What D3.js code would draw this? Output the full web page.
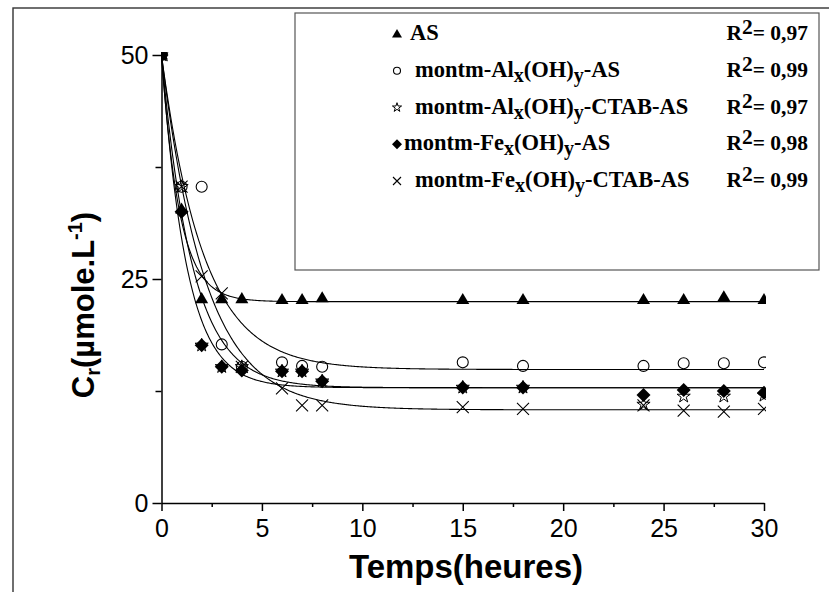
<!DOCTYPE html>
<html>
<head>
<meta charset="utf-8">
<script src="https://cdn.jsdelivr.net/npm/d3@7"></script>
<style>
  html, body { margin: 0; padding: 0; background: #fff; }
  svg { display: block; }
</style>
</head>
<body>
<svg id="chart" width="829" height="592"></svg>
<script>
// Sampling times (hours)
const times = [0, 1, 2, 3, 4, 6, 7, 8, 15, 18, 24, 26, 28, 30];

// Residual concentration C_r (µmole/L) per adsorbent
const crAS         = [50, 32.8, 22.8, 22.8, 22.8, 22.7, 22.7, 22.9, 22.7, 22.7, 22.7, 22.7, 23.0, 22.7];
const crAlAS       = [50, 35.3, 35.3, 17.7, 15.2, 15.7, 15.3, 15.2, 15.7, 15.3, 15.3, 15.6, 15.6, 15.7];
const crAlCTAB     = [50, 35.3, 17.6, 15.2, 15.2, 14.7, 14.7, 13.6, 12.9, 12.9, 11.0, 11.9, 11.9, 12.0];
const crFeAS       = [50, 32.5, 17.6, 15.2, 14.8, 14.7, 14.7, 13.6, 12.9, 12.9, 12.05, 12.6, 12.5, 12.3];
const crFeCTAB     = [50, 35.3, 25.3, 23.4, 15.2, 12.8, 10.9, 10.9, 10.7, 10.5, 10.9, 10.3, 10.2, 10.5];

// First-order fit C = Ce + (C0 - Ce)·exp(-k·t)
const fitC0      = [50, 50, 50, 50, 50];
const fitPlateau = [22.47, 14.9, 12.87, 12.87, 10.4];
const fitRate    = [1.12, 0.48, 0.65, 0.8, 0.46];

// Legend names (segments: [text, 'sub' | null]) and R² values
const seriesNames = [
  [["AS", null]],
  [["montm-Al", null], ["x", "sub"], ["(OH)", null], ["y", "sub"], ["-AS", null]],
  [["montm-Al", null], ["x", "sub"], ["(OH)", null], ["y", "sub"], ["-CTAB-AS", null]],
  [["montm-Fe", null], ["x", "sub"], ["(OH)", null], ["y", "sub"], ["-AS", null]],
  [["montm-Fe", null], ["x", "sub"], ["(OH)", null], ["y", "sub"], ["-CTAB-AS", null]]
];
const rSquared = ["0,97", "0,99", "0,97", "0,98", "0,99"];

// Axis ticks
const xTicks = [0, 5, 10, 15, 20, 25, 30];
const xMinorTicks = [2.5, 7.5, 12.5, 17.5, 22.5, 27.5];
const yTicks = [0, 25, 50];
const yMinorTicks = [12.5, 37.5];

const seriesValues = [crAS, crAlAS, crAlCTAB, crFeAS, crFeCTAB];
const symbolKinds = ["triangle", "circle", "star", "diamond", "cross"];

const svg = d3.select("#chart");
svg.append("rect").attr("width", 829).attr("height", 592).attr("fill", "#fff");

// Outer frame
svg.append("rect")
  .attr("x", 13).attr("y", 8).attr("width", 840).attr("height", 620)
  .attr("fill", "none").attr("stroke", "#333").attr("stroke-width", 1.4);

const x = d3.scaleLinear().domain([0, 30]).range([161.5, 764]);
const y = d3.scaleLinear().domain([0, 50]).range([503, 55]);

// Marker shapes
function marker(sel, kind, size) {
  const s = size;
  if (kind === "triangle") {
    const h = s * 0.85;
    sel.append("path")
      .attr("d", `M0,${-h * 0.6}L${s / 2},${h * 0.4}L${-s / 2},${h * 0.4}Z`)
      .attr("fill", "#000");
  } else if (kind === "circle") {
    sel.append("circle").attr("r", s / 2 - 0.5)
      .attr("fill", "none").attr("stroke", "#000").attr("stroke-width", 1.1);
  } else if (kind === "star") {
    sel.append("path")
      .attr("d", d3.symbol(d3.symbolStar, s * s * 0.32)())
      .attr("fill", "none").attr("stroke", "#000").attr("stroke-width", 1);
  } else if (kind === "diamond") {
    const r = s / 2;
    sel.append("path")
      .attr("d", `M0,${-r}L${r},0L0,${r}L${-r},0Z`)
      .attr("fill", "#000");
  } else if (kind === "cross") {
    const r = s / 2;
    sel.append("path")
      .attr("d", `M${-r},${-r}L${r},${r}M${-r},${r}L${r},${-r}`)
      .attr("fill", "none").attr("stroke", "#000").attr("stroke-width", 1.1);
  }
}

// Plot clipping
svg.append("clipPath").attr("id", "plotClip")
  .append("rect").attr("x", 161).attr("y", 52).attr("width", 605).attr("height", 460);

const plot = svg.append("g").attr("clip-path", "url(#plotClip)");

// Fitted curves
const tFine = d3.range(0, 30.001, 0.05);
const line = d3.line().x(d => x(d[0])).y(d => y(d[1]));
fitPlateau.forEach((ce, i) => {
  const pts = tFine.map(t => [t, ce + (fitC0[i] - ce) * Math.exp(-fitRate[i] * t)]);
  plot.append("path").attr("d", line(pts))
    .attr("fill", "none").attr("stroke", "#000").attr("stroke-width", 1.1);
});

// Data markers
const markerSizes = [13, 12, 13, 14, 12];
seriesValues.forEach((vals, i) => {
  vals.forEach((v, j) => {
    const g = plot.append("g").attr("transform", `translate(${x(times[j])},${y(v)})`);
    marker(g, symbolKinds[i], markerSizes[i]);
  });
});

// Axes
const axisFont = "'Liberation Sans', Arial, sans-serif";
const yAxis = svg.append("g").attr("transform", `translate(${x(0)},0)`)
  .call(d3.axisLeft(y).tickValues(yTicks).tickSize(9).tickSizeOuter(0).tickPadding(4));
svg.append("g").attr("transform", `translate(${x(0)},0)`)
  .call(d3.axisLeft(y).tickValues(yMinorTicks).tickSize(6).tickSizeOuter(0).tickFormat(""))
  .select(".domain").remove();
const xAxis = svg.append("g").attr("transform", `translate(0,${y(0)})`)
  .call(d3.axisBottom(x).tickValues(xTicks).tickSize(8).tickSizeOuter(0).tickPadding(8));
svg.append("g").attr("transform", `translate(0,${y(0)})`)
  .call(d3.axisBottom(x).tickValues(xMinorTicks).tickSize(4).tickSizeOuter(0).tickFormat(""))
  .select(".domain").remove();

svg.selectAll(".domain, .tick line").attr("stroke", "#000").attr("stroke-width", 1.5);
yAxis.selectAll("text").attr("font-family", axisFont).attr("font-size", 25).attr("fill", "#000");
xAxis.selectAll("text").attr("font-family", axisFont).attr("font-size", 25).attr("fill", "#000");

// Axis titles
svg.append("text")
  .attr("x", 466).attr("y", 578)
  .attr("text-anchor", "middle")
  .attr("font-family", axisFont).attr("font-weight", "bold").attr("font-size", 33)
  .text("Temps(heures)");

const yTitle = svg.append("text")
  .attr("transform", "translate(94,305) rotate(-90)")
  .attr("text-anchor", "middle")
  .attr("font-family", axisFont).attr("font-weight", "bold").attr("font-size", 31);
yTitle.append("tspan").text("C");
yTitle.append("tspan").attr("font-size", 20).attr("dy", 6).text("r");
yTitle.append("tspan").attr("dy", -6).text("(µmole.L");
yTitle.append("tspan").attr("font-size", 20).attr("dy", -12).text("-1");
yTitle.append("tspan").attr("dy", 12).text(")");

// Legend
const legendFont = "'Liberation Serif', 'Times New Roman', serif";
svg.append("rect")
  .attr("x", 295).attr("y", 13).attr("width", 524).attr("height", 257)
  .attr("fill", "#fff").attr("stroke", "#555").attr("stroke-width", 1.2);

const legendBase = 40, legendStep = 36.75;
const legendTextX = [410, 415, 415, 404, 415];
const legendMarkerSizes = [10, 8, 9, 10, 8];
seriesNames.forEach((segs, i) => {
  const by = legendBase + i * legendStep;
  const mg = svg.append("g").attr("transform", `translate(397,${by - 6})`);
  marker(mg, symbolKinds[i], legendMarkerSizes[i]);

  const t = svg.append("text")
    .attr("x", legendTextX[i]).attr("y", by)
    .attr("font-family", legendFont).attr("font-weight", "bold").attr("font-size", 22.5);
  let shifted = false;
  segs.forEach(([txt, kind]) => {
    const ts = t.append("tspan").text(txt);
    if (kind === "sub") { ts.attr("dy", 5).attr("font-size", 20); shifted = true; }
    else if (shifted) { ts.attr("dy", -5); shifted = false; }
  });

  const r = svg.append("text")
    .attr("x", 808).attr("y", by).attr("text-anchor", "end")
    .attr("font-family", legendFont).attr("font-weight", "bold").attr("font-size", 21.5);
  r.append("tspan").text("R");
  r.append("tspan").attr("dy", -6).text("2");
  r.append("tspan").attr("dy", 6).text("= " + rSquared[i]);
});
</script>
</body>
</html>
